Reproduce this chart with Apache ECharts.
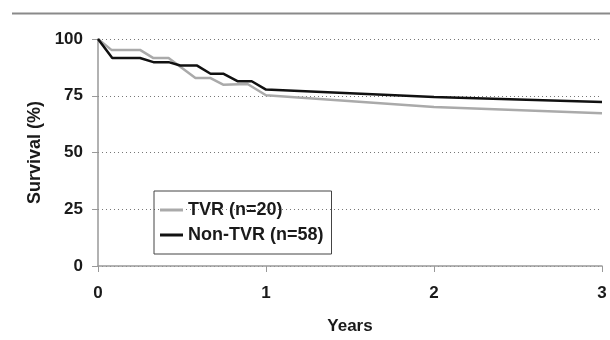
<!DOCTYPE html>
<html>
<head>
<meta charset="utf-8">
<script src="https://cdn.jsdelivr.net/npm/echarts@6/dist/echarts.min.js"></script>
<style>
  html, body { margin: 0; padding: 0; background: #fff; }
  #chart { width: 610px; height: 340px; }
</style>
</head>
<body>
<div id="chart"></div>
<script>
// survival curves (years, % surviving)
const tvrYears = [0, 0.08, 0.25, 0.33, 0.42, 0.58, 0.67, 0.745, 0.89, 1.0, 2, 3];
const tvrSurvival = [100, 95.2, 95.2, 91.6, 91.6, 82.8, 82.8, 79.9, 80.2, 75.2, 70.0, 67.3];

const nonTvrYears = [0, 0.085, 0.25, 0.33, 0.42, 0.49, 0.59, 0.67, 0.745, 0.83, 0.915, 1.0, 2, 3];
const nonTvrSurvival = [100, 91.6, 91.6, 89.8, 89.8, 88.3, 88.3, 84.7, 84.7, 81.4, 81.4, 77.7, 74.5, 72.2];

const xTicks = [0, 1, 2, 3];
const yTicks = [0, 25, 50, 75, 100];
const seriesNames = ['TVR (n=20)', 'Non-TVR (n=58)'];

const font = 'Liberation Sans, Arial, sans-serif';

const pairs = (xs, ys) => xs.map((x, i) => [x, ys[i]]);

let chart = echarts.init(document.getElementById('chart'));

chart.setOption({
  animation: false,
  grid: { left: 98, right: 8, top: 39, bottom: 72 },
  graphic: [{
    type: 'line',
    shape: { x1: 12, y1: 13.5, x2: 610, y2: 13.5 },
    style: { stroke: '#8a8a8a', lineWidth: 2 }
  }],
  legend: {
    orient: 'vertical',
    left: 154,
    top: 191,
    padding: [10, 8, 10, 6],
    itemGap: 7,
    icon: 'rect',
    itemWidth: 23,
    itemHeight: 3,
    borderColor: '#444',
    borderWidth: 1,
    data: seriesNames,
    textStyle: { fontFamily: font, fontWeight: 'bold', fontSize: 18, color: '#1a1a1a' }
  },
  xAxis: {
    type: 'value',
    min: xTicks[0],
    max: xTicks[xTicks.length - 1],
    interval: 1,
    name: 'Years',
    nameLocation: 'middle',
    nameGap: 52,
    nameTextStyle: { fontFamily: font, fontWeight: 'bold', fontSize: 17, color: '#1a1a1a' },
    axisLine: { lineStyle: { color: '#999', width: 1.5 } },
    axisTick: { show: true, length: 6, lineStyle: { color: '#999' } },
    axisLabel: { fontFamily: font, fontWeight: 'bold', fontSize: 17, color: '#1a1a1a', margin: 19 },
    splitLine: { show: false }
  },
  yAxis: {
    type: 'value',
    min: yTicks[0],
    max: yTicks[yTicks.length - 1],
    interval: 25,
    name: 'Survival (%)',
    nameLocation: 'middle',
    nameGap: 54,
    nameTextStyle: { fontFamily: font, fontWeight: 'bold', fontSize: 18, color: '#1a1a1a' },
    axisLine: { show: true, lineStyle: { color: '#999', width: 1.5 } },
    axisTick: { show: true, length: 6, lineStyle: { color: '#999' } },
    axisLabel: { fontFamily: font, fontWeight: 'bold', fontSize: 17, color: '#1a1a1a', margin: 15 },
    splitLine: { show: true, lineStyle: { color: '#777', type: [1, 3], width: 1 } }
  },
  series: [
    {
      name: seriesNames[0],
      type: 'line',
      symbol: 'none',
      data: pairs(tvrYears, tvrSurvival),
      lineStyle: { color: '#aaaaaa', width: 2.5 },
      itemStyle: { color: '#aaaaaa' }
    },
    {
      name: seriesNames[1],
      type: 'line',
      symbol: 'none',
      data: pairs(nonTvrYears, nonTvrSurvival),
      lineStyle: { color: '#111111', width: 2.5 },
      itemStyle: { color: '#111111' }
    }
  ]
});
</script>
</body>
</html>
